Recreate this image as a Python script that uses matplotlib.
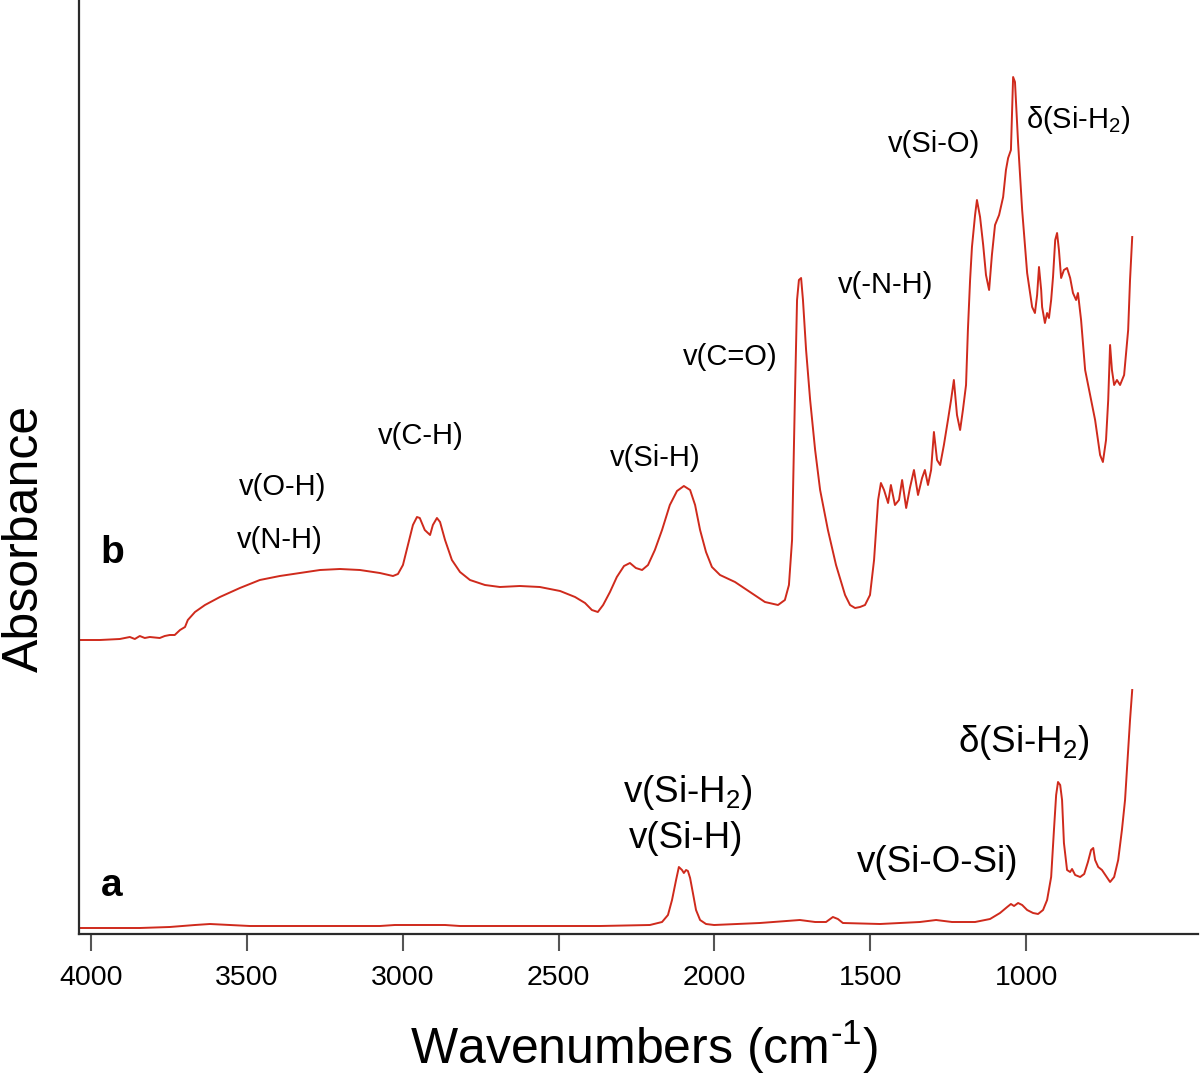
import matplotlib
matplotlib.use("Agg")
import matplotlib.pyplot as plt

plt.rcParams['font.family'] = ['Liberation Sans', 'DejaVu Sans']
plt.rcParams['mathtext.fontset'] = 'custom'
plt.rcParams['mathtext.rm'] = 'Liberation Sans'
plt.rcParams['mathtext.it'] = 'Liberation Sans:italic'
plt.rcParams['mathtext.bf'] = 'Liberation Sans:bold'

# ---- data: spectrum b (upper, functionalized) ----
wn_b = [4035, 3971, 3907, 3875, 3859, 3843, 3827, 3811, 3779, 3763, 3747, 3731,
        3714, 3698, 3689, 3666, 3634, 3586, 3522, 3458, 3394, 3330, 3265, 3201,
        3137, 3073, 3031, 3015, 2999, 2983, 2967, 2954, 2945, 2929, 2912, 2903,
        2890, 2880, 2864, 2842, 2816, 2784, 2736, 2688, 2624, 2560, 2495, 2447,
        2415, 2393, 2374, 2357, 2335, 2313, 2290, 2271, 2252, 2232, 2213, 2191,
        2168, 2143, 2120, 2098, 2078, 2062, 2046, 2027, 2008, 1982, 1934, 1886,
        1838, 1796, 1774, 1761, 1751, 1742, 1735, 1729, 1722, 1716, 1706, 1693,
        1677, 1661, 1636, 1610, 1581, 1565, 1549, 1533, 1517, 1501, 1488, 1475,
        1466, 1456, 1443, 1434, 1421, 1408, 1398, 1385, 1373, 1360, 1347, 1334,
        1325, 1315, 1305, 1296, 1286, 1276, 1264, 1251, 1241, 1232, 1222, 1212,
        1203, 1193, 1187, 1180, 1174, 1164, 1158, 1148, 1138, 1129, 1119, 1110,
        1100, 1087, 1074, 1065, 1058, 1049, 1042, 1036, 1026, 1013, 997, 981,
        972, 965, 959, 952, 949, 940, 933, 927, 920, 914, 907, 901, 895, 888,
        879, 869, 859, 850, 840, 834, 824, 811, 795, 779, 763, 754, 744, 737,
        731, 725, 718, 709, 699, 686, 673, 667, 660]
abs_b = [2.94, 2.94, 2.95, 2.97, 2.95, 2.98, 2.96, 2.97, 2.96, 2.98, 2.99, 2.99,
         3.04, 3.07, 3.14, 3.22, 3.29, 3.37, 3.46, 3.54, 3.58, 3.61, 3.64, 3.65,
         3.64, 3.61, 3.58, 3.60, 3.69, 3.89, 4.09, 4.17, 4.16, 4.04, 3.99, 4.09,
         4.16, 4.12, 3.94, 3.74, 3.62, 3.54, 3.49, 3.47, 3.48, 3.47, 3.43, 3.37,
         3.31, 3.24, 3.22, 3.29, 3.42, 3.57, 3.68, 3.71, 3.66, 3.64, 3.69, 3.84,
         4.04, 4.29, 4.43, 4.48, 4.44, 4.29, 4.04, 3.82, 3.67, 3.59, 3.52, 3.42,
         3.32, 3.29, 3.34, 3.49, 3.94, 5.34, 6.34, 6.54, 6.56, 6.34, 5.84, 5.34,
         4.84, 4.44, 4.04, 3.69, 3.39, 3.29, 3.26, 3.27, 3.29, 3.39, 3.74, 4.34,
         4.51, 4.44, 4.31, 4.49, 4.29, 4.34, 4.54, 4.26, 4.46, 4.64, 4.39, 4.56,
         4.64, 4.49, 4.64, 5.02, 4.74, 4.69, 4.89, 5.14, 5.34, 5.54, 5.19, 5.04,
         5.24, 5.49, 6.04, 6.54, 6.87, 7.19, 7.34, 7.17, 6.89, 6.59, 6.44, 6.79,
         7.09, 7.19, 7.37, 7.64, 7.76, 7.84, 8.57, 8.52, 7.91, 7.24, 6.61, 6.27,
         6.21, 6.39, 6.67, 6.44, 6.27, 6.11, 6.21, 6.16, 6.34, 6.57, 6.94, 7.01,
         6.84, 6.56, 6.64, 6.66, 6.56, 6.41, 6.34, 6.41, 6.14, 5.64, 5.39, 5.14,
         4.79, 4.72, 4.94, 5.34, 5.89, 5.64, 5.49, 5.54, 5.49, 5.59, 6.04, 6.54, 6.97]

# ---- data: spectrum a (lower, H-terminated) ----
wn_a = [4035, 3843, 3747, 3666, 3618, 3554, 3490, 3330, 3169, 3073, 3025, 2945,
        2864, 2816, 2624, 2367, 2207, 2168, 2149, 2136, 2123, 2114, 2104, 2098,
        2091, 2085, 2078, 2069, 2059, 2046, 2027, 2001, 1854, 1726, 1677, 1642,
        1620, 1604, 1588, 1469, 1341, 1289, 1238, 1164, 1116, 1084, 1061, 1049,
        1039, 1026, 1013, 997, 978, 962, 946, 933, 920, 911, 904, 898, 891, 885,
        879, 869, 859, 853, 843, 827, 814, 802, 792, 785, 779, 769, 757, 744,
        731, 718, 705, 693, 683, 673, 667, 660]
abs_a = [0.06, 0.06, 0.07, 0.09, 0.10, 0.09, 0.08, 0.08, 0.08, 0.08, 0.09, 0.09,
         0.09, 0.08, 0.08, 0.08, 0.09, 0.12, 0.19, 0.34, 0.54, 0.67, 0.64, 0.61,
         0.64, 0.63, 0.56, 0.41, 0.24, 0.14, 0.10, 0.09, 0.11, 0.14, 0.12, 0.12,
         0.17, 0.15, 0.11, 0.10, 0.12, 0.14, 0.12, 0.12, 0.15, 0.21, 0.27, 0.30,
         0.28, 0.31, 0.29, 0.24, 0.21, 0.20, 0.24, 0.34, 0.57, 1.04, 1.39, 1.52,
         1.49, 1.34, 0.91, 0.64, 0.62, 0.65, 0.59, 0.57, 0.60, 0.72, 0.84, 0.86,
         0.74, 0.67, 0.64, 0.58, 0.52, 0.57, 0.74, 1.04, 1.34, 1.84, 2.14, 2.44]

x_ticks = [4000, 3500, 3000, 2500, 2000, 1500, 1000]

line_color = '#cf2a1c'

fig = plt.figure(figsize=(12, 10.79), dpi=100)
ax = fig.add_axes([79 / 1200, 1 - 934 / 1079, 1119 / 1200, 934 / 1079])

ax.plot(wn_b, abs_b, color=line_color, lw=1.4)
ax.plot(wn_a, abs_a, color=line_color, lw=1.4)

ax.set_xlim(4038, 449)
ax.set_ylim(0, 9.34)

for s in ['top', 'right']:
    ax.spines[s].set_visible(False)
for s in ['left', 'bottom']:
    ax.spines[s].set_color('#2a2a2a')
    ax.spines[s].set_linewidth(1.6)

ax.set_xticks(x_ticks)
ax.set_xticklabels([str(t) for t in x_ticks])
ax.set_yticks([])
ax.tick_params(axis='x', direction='out', length=12, width=1.5, color='#555555',
               labelsize=20.5, pad=10)

ax.set_xlabel('Wavenumbers (cm$^{\\text{-1}}$)', fontsize=36)
ax.xaxis.set_label_coords(0.505, -0.121)
ax.xaxis.label.set_va('center')
ax.set_ylabel('Absorbance', fontsize=36)
ax.yaxis.set_label_coords(-0.048, 0.423)
ax.yaxis.label.set_va('center')

# sample labels
ax.text(0.0295, 0.408, 'b', transform=ax.transAxes, fontsize=28, fontweight='bold',
        ha='center', va='center')
ax.text(0.0295, 0.051, 'a', transform=ax.transAxes, fontsize=28, fontweight='bold',
        ha='center', va='center')

# band assignments, spectrum b
fs_b = 21
ax.text(3384, 4.47, 'v(O-H)', fontsize=fs_b, ha='center', va='center')
ax.text(3394, 3.94, 'v(N-H)', fontsize=fs_b, ha='center', va='center')
ax.text(2941, 4.98, 'v(C-H)', fontsize=fs_b, ha='center', va='center')
ax.text(2191, 4.76, 'v(Si-H)', fontsize=fs_b, ha='center', va='center')
ax.text(1950, 5.77, 'v(C=O)', fontsize=fs_b, ha='center', va='center')
ax.text(1450, 6.49, 'v(-N-H)', fontsize=fs_b, ha='center', va='center')
ax.text(1296, 7.90, 'v(Si-O)', fontsize=fs_b, ha='center', va='center')
ax.text(831, 8.18, 'δ(Si-H$_{\\mathrm{2}}$)', fontsize=fs_b, ha='center', va='center_baseline')

# band assignments, spectrum a
fs_a = 26.5
ax.text(2085, 1.46, 'v(Si-H$_{\\mathrm{2}}$)', fontsize=fs_a, ha='center', va='center_baseline')
ax.text(2091, 0.96, 'v(Si-H)', fontsize=fs_a, ha='center', va='center')
ax.text(1283, 0.72, 'v(Si-O-Si)', fontsize=fs_a, ha='center', va='center')
ax.text(1007, 1.96, 'δ(Si-H$_{\\mathrm{2}}$)', fontsize=fs_a, ha='center', va='center_baseline')

fig.savefig('out.png', dpi=100, facecolor='white')
